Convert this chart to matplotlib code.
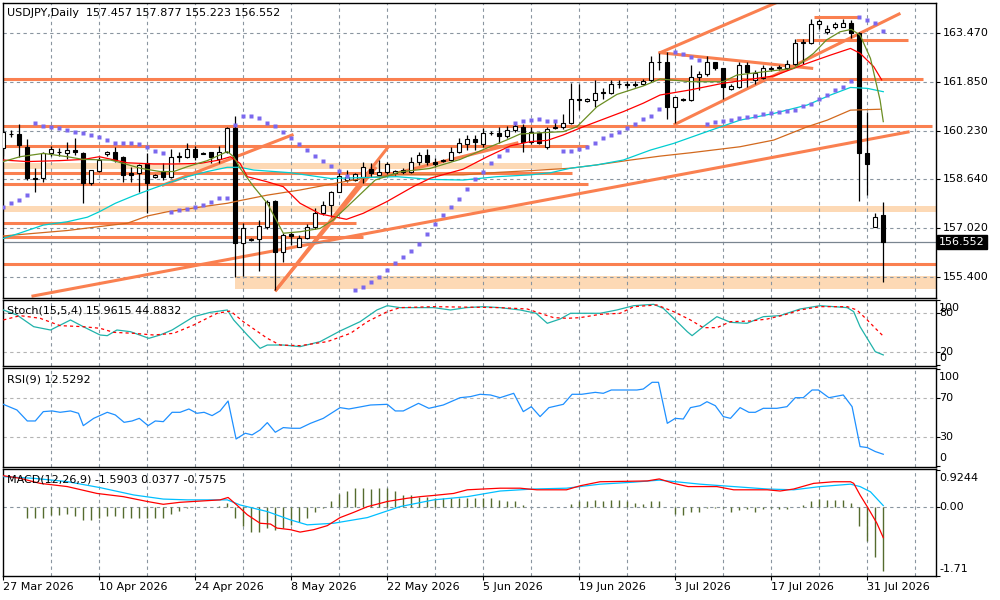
import matplotlib
matplotlib.use("Agg")
import matplotlib.pyplot as plt
import numpy as np

plt.rcParams['font.family'] = ['DejaVu Sans']
plt.rcParams['font.size'] = 8

# ---- daily candles, bar 0 = 27 Mar 2026 (broker feed has Sunday bars) ----
opens = [159.66, 160.12, 160.13, 159.71, 158.67, 158.67, 159.49, 159.55, 159.49, 159.60,
         159.49, 158.50, 158.92, 159.47, 159.52, 159.36, 158.83, 158.83, 159.16, 158.72,
         158.88, 158.72, 159.38, 159.38, 159.63, 159.50, 159.52, 159.31, 159.55, 160.32,
         156.52, 156.64, 156.66, 157.07, 157.90, 156.24, 156.84, 156.41, 156.68, 157.04,
         157.51, 157.78, 158.22, 158.60, 158.62, 158.72, 158.99, 158.77, 158.88, 158.83,
         158.88, 158.88, 159.19, 159.44, 159.20, 159.25, 159.27, 159.55, 159.80, 159.95,
         159.80, 160.15, 160.17, 160.08, 160.26, 160.37, 159.88, 160.15, 159.71, 160.32,
         160.37, 160.48, 161.30, 161.22, 161.27, 161.52, 161.50, 161.78, 161.80, 161.80,
         161.77, 161.90, 162.50, 162.52, 161.03, 161.30, 161.26, 162.00, 162.12, 162.50,
         162.30, 161.62, 161.70, 162.42, 161.90, 161.98, 162.28, 162.32, 162.30, 162.43,
         163.14, 163.13, 163.78, 163.51, 163.68, 163.68, 163.79, 163.46, 159.50, 157.07,
         157.457]
highs = [160.30, 160.25, 160.46, 159.96, 159.00, 159.55, 159.72, 159.68, 159.88, 160.00,
         159.52, 158.95, 159.38, 159.58, 159.69, 159.40, 159.05, 159.15, 159.49, 158.80,
         159.18, 159.63, 159.55, 159.82, 159.72, 159.53, 159.55, 159.72, 160.37, 160.73,
         157.18, 156.70, 157.30, 157.95, 157.95, 156.85, 156.90, 156.80, 157.15, 157.67,
         157.90, 158.25, 158.94, 158.94, 158.85, 159.20, 159.16, 159.27, 159.20, 158.95,
         159.00, 159.38, 159.55, 159.63, 159.35, 159.30, 159.71, 159.99, 160.10, 160.10,
         160.32, 160.22, 160.36, 160.40, 160.52, 160.46, 160.37, 160.20, 160.37, 160.60,
         160.78, 161.81, 161.79, 161.32, 161.92, 161.65, 161.90, 161.92, 161.88, 161.88,
         161.95, 162.70, 162.80, 162.85, 161.36, 161.33, 162.41, 162.20, 162.70, 162.52,
         162.32, 161.80, 162.50, 162.52, 162.25, 162.40, 162.38, 162.40, 162.57, 163.26,
         163.26, 163.92, 163.92, 163.72, 163.85, 163.93, 163.90, 163.50, 160.87, 157.51,
         157.877]
lows = [159.40, 160.02, 159.38, 158.60, 158.22, 158.55, 159.40, 159.40, 159.30, 159.44,
        157.84, 158.45, 158.88, 159.42, 159.22, 158.55, 158.55, 158.22, 157.51, 158.68,
        158.62, 158.66, 159.22, 159.35, 159.27, 159.46, 159.16, 159.16, 159.50, 155.41,
        155.42, 156.60, 155.60, 157.00, 154.97, 155.91, 156.45, 156.40, 156.65, 156.98,
        157.45, 157.40, 158.20, 158.55, 158.58, 158.50, 158.70, 158.72, 158.80, 158.75,
        158.80, 158.85, 159.10, 159.10, 159.05, 159.20, 159.25, 159.50, 159.60, 159.60,
        159.70, 160.10, 159.82, 160.00, 160.20, 159.55, 159.80, 159.80, 159.65, 160.28,
        160.30, 160.45, 160.92, 161.18, 161.02, 161.30, 161.45, 161.65, 161.65, 161.70,
        161.75, 161.85, 162.25, 160.63, 160.48, 161.22, 161.22, 161.60, 162.05, 162.25,
        161.28, 161.58, 161.65, 161.70, 161.80, 161.95, 162.20, 162.25, 162.25, 162.40,
        162.44, 163.10, 163.60, 163.45, 163.60, 163.70, 163.29, 157.93, 158.11, 157.05,
        155.223]
closes = [160.21, 160.13, 159.77, 158.67, 158.63, 159.49, 159.63, 159.52, 159.60, 159.52,
          158.50, 158.94, 159.27, 159.52, 159.27, 158.77, 158.76, 159.11, 158.52, 158.77,
          158.70, 159.38, 159.39, 159.63, 159.38, 159.48, 159.38, 159.55, 160.32, 156.52,
          157.02, 156.66, 157.10, 157.89, 156.24, 156.79, 156.77, 156.68, 157.04, 157.51,
          157.79, 158.22, 158.74, 158.70, 158.80, 159.05, 158.83, 158.88, 159.14, 158.90,
          158.95, 159.19, 159.44, 159.19, 159.14, 159.27, 159.55, 159.85, 159.95, 159.88,
          160.15, 160.17, 160.05, 160.26, 160.41, 159.88, 160.19, 159.82, 160.30, 160.37,
          160.48, 161.28, 161.27, 161.30, 161.50, 161.48, 161.80, 161.79, 161.75, 161.75,
          161.88, 162.52, 162.52, 161.03, 161.34, 161.26, 162.03, 162.12, 162.50, 162.30,
          161.69, 161.72, 162.40, 162.17, 162.15, 162.30, 162.32, 162.33, 162.43, 163.13,
          163.16, 163.77, 163.88, 163.59, 163.77, 163.79, 163.46, 159.49, 159.13, 157.40,
          156.552]

# parabolic SAR dots (nan = no dot visible)
sar = [157.73, 157.86, 157.95, 158.11,
       160.49, 160.41, 160.35, 160.32, 160.26, 160.21, 160.17, 160.10, 160.04, 159.93,
       159.85, 159.82, 159.82, 159.79, 159.69, 159.57, 159.49,
       157.54, 157.62, 157.65, 157.73, 157.80, 157.89, 158.00, 158.03,
       160.43, 160.74, 160.73, 160.65, 160.50, 160.40, 160.21, 159.99, 159.80, 159.60,
       159.40, 159.25, 159.08, 158.91,
       158.74,
       154.97, 155.08, 155.25, 155.41, 155.63, 155.85, 156.07, 156.27, 156.49, 156.82,
       157.16, 157.45, 157.73, 157.98, 158.30, 158.64, 158.89, 159.18, 159.40, 159.60,
       160.50, 160.57, 160.59, 160.62, 160.57, 160.57,
       159.58, 159.58, 159.62, 159.71, 159.84, 159.99, 160.10, 160.21, 160.34, 160.46,
       160.62, 160.74, 160.96,
       np.nan,
       162.85, 162.76, 162.67, 162.58,
       160.46, 160.54, 160.57, 160.59, 160.65, 160.70, 160.74, 160.78, 160.81, 160.85,
       160.89, 160.92, 161.07, 161.11, 161.29, 161.42, 161.59, 161.70, 161.88,
       164.01, 163.90, 163.81, 163.54]

# moving averages (bar position, price)
ma_fast_x = [0, 2.1, 5, 8, 10, 13.4, 15, 17.1, 19.6, 21.3, 23, 25.5, 28, 28.8, 29.6, 31.3,
             33, 35, 37.1, 39.6, 41.25, 46.5, 49.6, 53.3, 57.1, 60.4, 62.9, 64.6, 67.1, 70,
             71.7, 74.2, 76.7, 80, 82.1, 85.9, 90, 91.7, 94.2, 97.1, 98.8, 101.3, 102.9,
             104.6, 106, 107.1, 108.4, 109.6, 110]
ma_fast = [159.22, 159.38, 159.49, 159.38, 159.29, 159.27, 159.16, 159.00, 158.89, 158.89,
           159.05, 159.25, 159.55, 159.38, 159.00, 158.39, 157.84, 156.85, 156.90, 157.01,
           157.29, 158.61, 158.88, 158.99, 159.29, 159.66, 159.93, 160.13, 160.17, 160.21,
           160.37, 161.03, 161.44, 161.72, 161.95, 161.86, 161.86, 162.08, 162.16, 162.25,
           162.30, 162.80, 163.24, 163.51, 163.59, 163.40, 162.63, 161.25, 160.54]
ma_red_x = [0, 3, 7, 10, 12, 15.5, 18.8, 21.5, 24.6, 27, 28.4, 29.6, 30.5, 33, 35, 37.1,
            39.6, 42.9, 45, 47.9, 51.3, 53.4, 57.5, 60.5, 63.4, 65.9, 68, 70, 72.5, 74.2,
            77.5, 80, 82.1, 85.9, 90, 94.2, 96.3, 100.5, 103.4, 105.9, 107.1, 108.8, 109.8]
ma_red = [159.27, 159.22, 159.25, 159.29, 159.38, 159.18, 159.14, 159.14, 159.16, 159.27,
          159.38, 159.16, 158.72, 158.55, 158.39, 157.84, 157.49, 157.31, 157.51, 157.89,
          158.40, 158.67, 158.97, 159.38, 159.74, 159.88, 159.92, 160.10, 160.37, 160.54,
          160.87, 161.15, 161.42, 161.59, 161.81, 161.97, 162.05, 162.47, 162.74, 162.96,
          162.80, 162.36, 161.92]
ma_cyan_x = [0, 2, 5, 8, 10.5, 12, 14, 16.2, 18.4, 20.5, 23, 25.5, 28, 29.6, 31.3, 35.9,
             40.9, 45, 49.2, 53.4, 57.5, 61.7, 65.9, 68.4, 70.9, 74.2, 77.5, 80.9, 83.8,
             87.96, 92.1, 96.3, 100.5, 103.4, 105.9, 108, 110]
ma_cyan = [156.68, 156.85, 157.12, 157.23, 157.38, 157.56, 157.84, 158.08, 158.30, 158.50,
           158.72, 158.89, 159.03, 159.03, 158.94, 158.85, 158.66, 158.69, 158.72, 158.63,
           158.61, 158.72, 158.78, 158.85, 159.00, 159.11, 159.27, 159.60, 159.82, 160.21,
           160.59, 160.81, 161.09, 161.42, 161.67, 161.64, 161.53]
ma_brown_x = [0, 8, 12, 15.5, 18, 20.5, 23, 25.5, 28, 29.6, 33, 37.1, 40.9, 45, 49.2, 57.5,
              61.7, 65.9, 70.9, 74.2, 78.4, 82.1, 85.9, 92.1, 96.3, 100.5, 103, 105.9, 109.6]
ma_brown = [156.76, 156.94, 157.07, 157.18, 157.42, 157.56, 157.65, 157.75, 157.84, 157.93,
            158.11, 158.28, 158.47, 158.67, 158.78, 158.78, 158.86, 158.92, 159.00, 159.11,
            159.27, 159.40, 159.51, 159.71, 159.93, 160.37, 160.59, 160.92, 160.95]

# drawn objects: horizontal levels, zones, trend lines (bar, price)
hline_price = [161.94, 160.40, 159.74, 158.83, 158.47, 157.18, 156.74, 155.83, 163.99, 163.24]
hline_x0 = [-1, -1, -1, -1, -1, -1, -1, -1, 101.4, 99.1]
hline_x1 = [115.0, 116.1, 73.1, 71.1, 73.1, 44.1, 45.0, 118, 107.1, 113.1]
zone_x0 = [-1, -1, 29.0]
zone_x1 = [69.8, 118, 118]
zone_lo = [158.96, 157.55, 155.00]
zone_hi = [159.16, 157.75, 155.43]
trend_lines = [(3.71, 154.775, 113.1, 160.197),
               (20.0, 158.445, 36.1, 160.098),
               (34.1, 154.973, 48.1, 159.700),
               (34.1, 154.973, 46.5, 158.997),
               (47.5, 158.730, 64.2, 159.833),
               (82.1, 162.819, 96.6, 164.470),
               (83.96, 160.451, 111.97, 164.098),
               (82.1, 162.819, 101.05, 162.303)]

price_levels = [155.40, 157.02, 158.64, 160.23, 161.85, 163.47]
last_price = 156.552

# ---- Stochastic (15,5,4) ----
stoch_k_x = [0, 1.7, 3.8, 5.9, 8.4, 10, 12.1, 13, 14.2, 15.9, 18.2, 19.6, 21.1, 23.8, 25.9,
             28, 28.8, 30.5, 32.1, 33, 35, 37.1, 39.6, 42.1, 44.6, 46.7, 48, 49.6, 53.8,
             55.9, 57.9, 60, 62.1, 64.6, 66.6, 68, 69.6, 70.9, 72.5, 74.6, 76.7, 78.8,
             81.3, 82.5, 83.8, 85.5, 86.1, 87.5, 89.2, 90.9, 92.96, 95, 97.1, 99.6, 102.1,
             105.5, 106.3, 107.1, 109, 110]
stoch_k = [85.1, 77.4, 59.4, 54.3, 69.7, 59.4, 46.6, 45.6, 54.3, 51.7, 41.5, 46.6, 54.3,
           74.8, 81.5, 85.1, 69.7, 46.6, 26.1, 31.2, 31.2, 28.7, 36.4, 52.8, 67.1, 85.1,
           91.7, 88.7, 88.7, 85.1, 88.7, 90.2, 88.7, 85.1, 80.0, 64.6, 71.2, 80.0, 80.0,
           80.0, 85.1, 91.7, 93.8, 87.6, 72.3, 51.7, 45.6, 59.4, 74.8, 66.1, 64.6, 74.8,
           76.4, 86.6, 91.7, 88.7, 82.5, 59.4, 21.0, 15.96]
stoch_d_x = [0, 2.1, 4.6, 7.1, 10, 12.1, 13.8, 16.3, 18.8, 21.3, 23.8, 26.7, 28.4, 30, 33,
             34.6, 37.1, 40.5, 43.4, 45.5, 48, 49.6, 53.8, 62.1, 65.5, 67.1, 68.8, 70.5,
             72.1, 74.6, 77.1, 78.8, 81.7, 83.8, 85.9, 87.5, 89.2, 90.9, 93.4, 95.5, 97.6,
             99.6, 102.1, 105.5, 106.7, 108, 109, 110]
stoch_d = [69.7, 76.4, 72.3, 61.0, 59.4, 56.9, 50.7, 49.2, 46.6, 49.2, 62.0, 79.9, 83.5,
           67.1, 41.5, 31.2, 30.2, 36.4, 49.2, 67.1, 82.5, 88.7, 90.2, 88.7, 86.6, 80.0,
           73.3, 72.3, 73.3, 78.4, 80.0, 90.2, 92.8, 82.5, 69.7, 57.9, 57.9, 67.1, 68.1,
           71.2, 77.4, 85.1, 90.2, 90.2, 85.1, 69.7, 57.0, 44.88]

# ---- RSI (9) ----
rsi_x = [0, 1.7, 3, 4, 5, 6.1, 7.1, 8.4, 9.4, 10, 11.3, 13, 14, 15.1, 16.1, 17, 18.1, 19,
         20, 21.1, 22.1, 23.2, 24.2, 25.1, 26.1, 27.1, 28.1, 29.1, 30.25, 31.1, 32.1, 33,
         34, 35, 36.1, 37.1, 38.4, 40, 42.1, 43.2, 44.8, 45.9, 48, 49, 50, 51.9, 53.2, 55,
         57.1, 58.4, 59.6, 60.9, 62.1, 63.8, 65, 66, 67.1, 68.2, 70, 71.1, 72.3, 74, 75,
         76, 79.2, 80, 81.1, 81.9, 83, 84, 85, 85.9, 87.1, 87.96, 89, 90, 90.9, 92.1, 93.2,
         94, 95, 96.7, 97.96, 99, 100, 101.1, 101.9, 103.2, 105, 106.1, 107.1, 108, 109, 110]
rsi = [63.8, 58.0, 46.7, 46.7, 56.3, 57.0, 55.6, 57.0, 54.6, 41.9, 49.4, 55.6, 52.9, 45.3,
       46.7, 49.4, 41.9, 46.7, 46.0, 55.6, 55.6, 59.0, 54.6, 55.6, 52.2, 57.0, 67.2, 28.2,
       34.1, 32.4, 37.5, 45.0, 35.1, 39.9, 39.2, 39.2, 44.3, 49.4, 60.4, 59.0, 61.4, 63.1,
       63.8, 57.0, 57.0, 64.8, 59.7, 63.1, 70.6, 71.7, 74.1, 73.4, 70.6, 75.1, 56.3, 61.4,
       51.2, 60.4, 63.8, 74.1, 74.1, 76.1, 75.1, 78.5, 78.5, 79.5, 86.4, 86.4, 44.3, 49.4,
       48.7, 60.4, 62.4, 66.5, 62.4, 51.2, 49.4, 60.4, 55.6, 55.6, 59.7, 59.7, 61.4, 70.6,
       70.6, 78.5, 78.5, 70.6, 73.4, 61.4, 20.4, 19.4, 15.3, 12.53]

# ---- MACD (12,26,9) ----
macd_hist = [0.0, 0.0, 0.0,
             -0.28, -0.28, -0.26, -0.19, -0.19, -0.18, -0.23, -0.32, -0.32, -0.28, -0.23,
             -0.21, -0.26, -0.26, -0.26, -0.28, -0.26, -0.26, -0.18, -0.09,
             -0.02, 0.0, 0.0, 0.01, 0.03, 0.10,
             -0.27, -0.48, -0.61, -0.61, -0.52, -0.56, -0.52, -0.44, -0.36, -0.27, -0.12, -0.03,
             0.14, 0.32, 0.40, 0.47, 0.47, 0.45, 0.47, 0.47, 0.39, 0.30, 0.30, 0.26, 0.24,
             0.22, 0.22, 0.22, 0.22, 0.22, 0.22, 0.22, 0.22, 0.18,
             0.15, 0.15, 0.05, 0.0, 0.0, 0.0, 0.0, 0.01,
             0.07, 0.14, 0.15, 0.18, 0.15, 0.18, 0.18, 0.15, 0.10, 0.07, 0.14, 0.14,
             0.0,
             -0.17, -0.19, -0.12, -0.11, -0.02, -0.01, -0.01, -0.12, -0.07, -0.05, -0.11,
             -0.05, -0.02, -0.05, -0.05, 0.0,
             0.06, 0.15, 0.21, 0.18, 0.18, 0.18, 0.10,
             -0.46, -0.84, -1.25, -1.59]
macd_red_x = [0, 2.1, 4.6, 8, 11.7, 15, 18, 20, 22.1, 24.6, 27.1, 28.1, 29.2, 30.5, 32.1,
              33.4, 34.2, 35.9, 37.1, 38.8, 40.5, 42.1, 43.8, 45.5, 48, 50.5, 52.1, 53.8,
              56.3, 58, 60, 62.1, 64.6, 66.7, 70.4, 72.1, 74.6, 80.5, 82, 83.8, 85.6, 89.2,
              91.3, 95.5, 97.1, 98.8, 101.3, 103.8, 105.9, 106.3, 107.1, 108, 109.2, 110]
macd_red = [0.78, 0.715, 0.59, 0.51, 0.34, 0.26, 0.14, 0.07, 0.12, 0.15, 0.18, 0.24, 0.05,
            -0.19, -0.40, -0.42, -0.52, -0.56, -0.62, -0.56, -0.46, -0.26, -0.13, 0.01,
            0.14, 0.22, 0.26, 0.29, 0.34, 0.43, 0.45, 0.47, 0.47, 0.43, 0.43, 0.53, 0.63,
            0.65, 0.70, 0.59, 0.51, 0.51, 0.43, 0.43, 0.40, 0.45, 0.59, 0.63, 0.63, 0.59,
            0.30, 0.01, -0.40, -0.7575]
macd_cyan_x = [0, 3.8, 8, 12.1, 16.3, 20, 23, 28, 29.6, 33, 35.9, 38, 41.3, 45.5, 49.6,
               53.8, 58, 62.1, 66.3, 70.4, 74.6, 78.8, 82, 84.6, 87.1, 91.3, 95.5, 98.8,
               102.1, 105.9, 107.1, 108.4, 110]
macd_cyan = [0.757, 0.715, 0.633, 0.484, 0.302, 0.20, 0.18, 0.18, 0.054, -0.11, -0.317,
             -0.44, -0.40, -0.26, 0.013, 0.18, 0.26, 0.40, 0.45, 0.47, 0.57, 0.62, 0.67,
             0.62, 0.57, 0.51, 0.45, 0.43, 0.51, 0.57, 0.51, 0.38, 0.0377]

date_labels = ["27 Mar 2026", "10 Apr 2026", "24 Apr 2026", "8 May 2026", "22 May 2026",
               "5 Jun 2026", "19 Jun 2026", "3 Jul 2026", "17 Jul 2026", "31 Jul 2026"]
date_bars = [0, 12, 24, 36, 48, 60, 72, 84, 96, 108]

GRID = '#8a95a0'
LEVEL = '#b4b4b4'
CORAL = '#fa8050'
PEACH = '#fdd9b5'

W, H = 1000, 600
fig = plt.figure(figsize=(W / 100, H / 100), dpi=100)


def panel(top, bottom):
    # panel rectangle given in pixel rows
    return fig.add_axes([2.7 / W, 1 - bottom / H, (936 - 2.7) / W, (bottom - top) / H])


ax = panel(3, 297.7)
ax_st = panel(299.7, 365.7)
ax_rsi = panel(367.7, 466.5)
ax_macd = panel(468.7, 576)

for a in (ax, ax_st, ax_rsi, ax_macd):
    a.set_xlim(-0.075, 116.59)
    a.set_facecolor('white')
    for s in a.spines.values():
        s.set_color('black')
        s.set_linewidth(1.0)
    a.tick_params(axis='x', bottom=False, labelbottom=False)
    a.tick_params(axis='y', left=False, labelleft=False, right=True, labelright=False,
                  length=3, width=0.8, direction='out')
    for v in range(6, 117, 6):
        a.axvline(v, color=GRID, lw=0.8, ls=(0, (3, 3)), zorder=1)

x = np.arange(len(opens))
o, h, l, c = map(np.array, (opens, highs, lows, closes))

# ---- main price panel ----
ax.set_ylim(154.719, 164.462)
for p in price_levels:
    ax.axhline(p, color=GRID, lw=0.8, ls=(0, (3, 3)), zorder=1)
for x0, x1, lo, hi in zip(zone_x0, zone_x1, zone_lo, zone_hi):
    ax.fill_between([x0, x1], lo, hi, color=PEACH, lw=0, zorder=0.5)
for p, x0, x1 in zip(hline_price, hline_x0, hline_x1):
    ax.plot([x0, x1], [p, p], color=CORAL, lw=2.2, solid_capstyle='butt', zorder=2)
for x0, p0, x1, p1 in trend_lines:
    ax.plot([x0, x1], [p0, p1], color=CORAL, lw=2.2, zorder=2)
ax.axhline(last_price, color='#7a8590', lw=0.9, zorder=2.2)

ax.vlines(x, l, h, color='black', lw=0.9, zorder=3)
up = c >= o
body_lo = np.minimum(o, c)
body_h = np.abs(c - o)
ax.bar(x[up], body_h[up], 0.55, bottom=body_lo[up], facecolor='white',
       edgecolor='black', lw=0.8, zorder=3.2)
ax.bar(x[~up], body_h[~up], 0.55, bottom=body_lo[~up], facecolor='black',
       edgecolor='black', lw=0.8, zorder=3.2)

ax.plot(ma_brown_x, ma_brown, color='#d2691e', lw=0.9, zorder=4)
ax.plot(ma_cyan_x, ma_cyan, color='#00ced1', lw=0.9, zorder=4)
ax.plot(ma_red_x, ma_red, color='#ff0000', lw=0.9, zorder=4)
ax.plot(ma_fast_x, ma_fast, color='#6b8e23', lw=0.9, zorder=4)
ax.plot(x, sar, 's', ms=2.2, color='#7b68ee', mec='none', zorder=5)

ax.set_yticks(price_levels)
ytr = ax.get_yaxis_transform()
for p in price_levels:
    ax.text(1.0075, p, f'{p:.3f}', transform=ytr, va='center', ha='left', fontsize=8)
ax.text(1.0035, last_price, f'{last_price:.3f}', transform=ytr, va='center', ha='left',
        fontsize=8, color='white',
        bbox=dict(boxstyle='square,pad=0.18', fc='black', ec='black'))
ax.text(0.0045, 0.966, 'USDJPY,Daily  157.457 157.877 155.223 156.552',
        transform=ax.transAxes, va='center', ha='left', fontsize=8)

# ---- stochastic ----
ax_st.set_ylim(-0.6, 100.9)
for lv in (80, 20):
    ax_st.axhline(lv, color=LEVEL, lw=0.8, ls=(0, (3, 3)), zorder=1)
ax_st.plot(stoch_k_x, stoch_k, color='#20b2aa', lw=0.9, zorder=3)
ax_st.plot(stoch_d_x, stoch_d, color='#ff0000', lw=0.9, ls=(0, (2.5, 2.5)), zorder=3)
ax_st.set_yticks([0, 20, 80, 100])
st_tr = ax_st.get_yaxis_transform()
for lv, dy in ((100, -8), (80, 0), (20, 0), (0, 7)):
    ax_st.annotate(str(lv), (1.0035, lv), xycoords=st_tr, xytext=(0, dy),
                   textcoords='offset pixels', va='center', ha='left', fontsize=8,
                   annotation_clip=False)
ax_st.text(0.0045, 0.83, 'Stoch(15,5,4) 15.9615 44.8832', transform=ax_st.transAxes,
           va='center', ha='left', fontsize=8)

# ---- RSI ----
ax_rsi.set_ylim(-0.05, 101.4)
for lv in (70, 30):
    ax_rsi.axhline(lv, color=LEVEL, lw=0.8, ls=(0, (3, 3)), zorder=1)
ax_rsi.plot(rsi_x, rsi, color='#1e90ff', lw=0.9, zorder=3)
ax_rsi.set_yticks([0, 30, 70, 100])
r_tr = ax_rsi.get_yaxis_transform()
for lv, dy in ((100, -8), (70, 0), (30, 0), (0, 8)):
    ax_rsi.annotate(str(lv), (1.0035, lv), xycoords=r_tr, xytext=(0, dy),
                    textcoords='offset pixels', va='center', ha='left', fontsize=8,
                    annotation_clip=False)
ax_rsi.text(0.0045, 0.88, 'RSI(9) 12.5292', transform=ax_rsi.transAxes,
            va='center', ha='left', fontsize=8)

# ---- MACD ----
ax_macd.set_ylim(-1.705, 0.954)
ax_macd.axhline(0, color=GRID, lw=0.8, ls=(0, (3, 3)), zorder=1)
ax_macd.vlines(x, 0, macd_hist, color='#556b2f', lw=1.0, zorder=2)
ax_macd.plot(macd_cyan_x, macd_cyan, color='#00bfff', lw=0.9, zorder=3)
ax_macd.plot(macd_red_x, macd_red, color='#ff0000', lw=0.9, zorder=3)
ax_macd.set_yticks([-1.71, 0.0, 0.9244])
m_tr = ax_macd.get_yaxis_transform()
for lv, txt, dy in ((0.9244, '0.9244', -8), (0.0, '0.00', 0), (-1.71, '-1.71', 7)):
    ax_macd.annotate(txt, (1.0035, lv), xycoords=m_tr, xytext=(0, dy),
                     textcoords='offset pixels', va='center', ha='left', fontsize=8,
                     annotation_clip=False)
ax_macd.text(0.0045, 0.9, 'MACD(12,26,9) -1.5903 0.0377 -0.7575',
             transform=ax_macd.transAxes, va='center', ha='left', fontsize=8)

ax_macd.set_xticks(date_bars)
ax_macd.tick_params(axis='x', bottom=True, length=3, width=0.8, labelbottom=False)
xtr = ax_macd.get_xaxis_transform()
for b, lab in zip(date_bars, date_labels):
    ax_macd.text(b, -0.103, lab, transform=xtr, va='center', ha='left', fontsize=8)

fig.savefig('out.png', dpi=100)
